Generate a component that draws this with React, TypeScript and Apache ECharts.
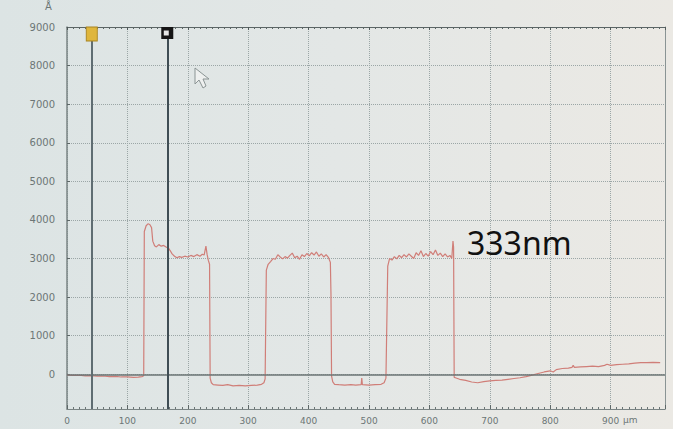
import React, { useEffect, useRef } from "react";
import * as echarts from "echarts";

// Profile trace (x in µm, height in Å)
const leadIn: number[][] = [
  [0, -20], [10, -30], [20, -25], [30, -40], [40, -35], [50, -50], [60, -45], [70, -60],
  [80, -55], [90, -70], [100, -65], [110, -80], [118, -75], [124, -60], [127, -40],
];
const plateau1: number[][] = [
  [128, 3700], [131, 3850], [134, 3900], [137, 3880], [140, 3800], [142, 3450], [145, 3330],
  [148, 3300], [152, 3360], [156, 3320], [160, 3340], [164, 3300], [168, 3270], [171, 3200],
  [174, 3120], [178, 3060], [182, 3020], [186, 3050], [190, 3030], [195, 3060], [200, 3040],
  [205, 3080], [210, 3050], [215, 3100], [220, 3060], [224, 3110], [227, 3090], [230, 3320],
  [232, 3100], [234, 2950], [236, 2850],
];
const trench1: number[][] = [
  [237, -100], [239, -220], [242, -270], [250, -280], [258, -290], [266, -270], [275, -300],
  [285, -290], [295, -300], [305, -290], [315, -280], [322, -260], [326, -220], [328, -120],
];
const plateau2: number[][] = [
  [330, 2700], [333, 2850], [337, 2920], [341, 3000], [345, 2980], [349, 3100], [353, 3040],
  [357, 2990], [361, 3050], [365, 3010], [369, 3080], [373, 3140], [377, 3020], [381, 3060],
  [385, 2980], [389, 3100], [393, 3050], [397, 3130], [401, 3070], [405, 3150], [409, 3090],
  [413, 3170], [417, 3060], [421, 3120], [425, 3040], [429, 3100], [433, 3020], [436, 2900],
  [437, 2100],
];
const trench2: number[][] = [
  [438, -50], [440, -200], [443, -260], [450, -270], [460, -280], [470, -270], [478, -280],
  [487, -270], [488, -100], [489, -270], [500, -280], [510, -270], [520, -260], [525, -220],
  [528, -100],
];
const plateau3: number[][] = [
  [531, 2800], [534, 3000], [538, 2960], [542, 3050], [546, 2990], [550, 3080], [554, 3020],
  [558, 3100], [562, 3040], [566, 3120], [570, 3060], [574, 3000], [578, 3150], [582, 3080],
  [586, 3200], [590, 3050], [594, 3130], [598, 3060], [602, 3180], [606, 3100], [610, 3220],
  [614, 3080], [618, 3140], [622, 3050], [626, 3120], [630, 3040], [634, 3080], [637, 3000],
  [639, 3450], [640, 3300],
];
const tail: number[][] = [
  [641, -80], [643, -90], [650, -130], [660, -160], [670, -200], [680, -220], [690, -190],
  [700, -170], [710, -160], [720, -150], [730, -130], [740, -110], [750, -90], [760, -60],
  [770, -20], [780, 20], [790, 60], [800, 90], [805, 60], [810, 120], [820, 150], [830, 160],
  [836, 180], [838, 230], [840, 180], [850, 190], [860, 200], [870, 210], [880, 200],
  [890, 230], [894, 260], [900, 230], [910, 250], [920, 260], [930, 270], [940, 290],
  [950, 300], [960, 300], [970, 310], [982, 300],
];

const cursorYellow = 41;
const cursorBlack = 166;
const xMin = 0;
const xMax = 990;
const yMin = -900;
const yMax = 9000;
const stepLabel = "333nm";
const yUnit = "Å";
const xUnit = "µm";

export default function App() {
  const ref = useRef<HTMLDivElement>(null);
  useEffect(() => {
    const chart = echarts.init(ref.current!, null, { renderer: "svg" });
    const data = [...leadIn, ...plateau1, ...trench1, ...plateau2, ...trench2, ...plateau3, ...tail];
    const axisGray = "#7a8484";
    const labelGray = "#6c7676";
    chart.setOption({
      animation: false,
      grid: { left: 67, right: 8, top: 27, bottom: 20, containLabel: false },
      graphic: [
        {
          type: "rect",
          z: -100,
          silent: true,
          shape: { x: 0, y: 0, width: 673, height: 429 },
          style: {
            fill: new echarts.graphic.LinearGradient(0, 0, 1, 0, [
              { offset: 0, color: "#dce4e4" },
              { offset: 0.5, color: "#e3e7e6" },
              { offset: 1, color: "#ebe9e4" },
            ]),
          },
        },
        {
          type: "text",
          left: 467,
          top: 226,
          z: 100,
          style: { text: stepLabel, fill: "#111111", font: '32px "Noto Sans"' },
        },
        {
          type: "text",
          left: 45,
          top: 1,
          style: { text: yUnit, fill: labelGray, font: '10px "DejaVu Sans"' },
        },
        {
          type: "text",
          left: 623,
          top: 415,
          style: { text: xUnit, fill: labelGray, font: '9px "DejaVu Sans"' },
        },
        {
          type: "polygon",
          silent: true,
          shape: {
            points: [[195, 68], [195, 84], [199, 80], [203, 88], [206, 86], [203, 79], [209, 79]],
          },
          style: { fill: "#eef0ef", stroke: "#8b9494", lineWidth: 1 },
        },
      ],
      xAxis: [
        {
          type: "value",
          min: xMin,
          max: xMax,
          interval: 100,
          position: "bottom",
          axisLine: { show: true, onZero: false, lineStyle: { color: axisGray, width: 1 } },
          axisTick: { show: true, inside: true, length: 4, lineStyle: { color: "#5d6767" } },
          minorTick: { show: true, splitNumber: 10, length: 2, lineStyle: { color: "#6a7474" } },
          axisLabel: {
            color: labelGray,
            fontSize: 9,
            margin: 7,
            fontFamily: "DejaVu Sans",
            showMaxLabel: false,
            formatter: (v: number) => String(v),
          },
          splitLine: { show: true, lineStyle: { color: "#9ba6a6", type: "dotted", width: 1 } },
        },
        {
          type: "value",
          min: xMin,
          max: xMax,
          interval: 100,
          position: "top",
          axisLine: { show: true, onZero: false, lineStyle: { color: "#5b6565", width: 1 } },
          axisTick: { show: true, inside: true, length: 3, lineStyle: { color: "#4f5959" } },
          minorTick: { show: true, splitNumber: 10, length: 2, lineStyle: { color: "#5b6565" } },
          axisLabel: { show: false },
          splitLine: { show: false },
        },
      ],
      yAxis: [
        {
          type: "value",
          min: yMin,
          max: yMax,
          splitNumber: 10,
          axisLine: { show: true, onZero: false, lineStyle: { color: axisGray, width: 1.5 } },
          axisTick: { show: true, inside: true, length: 3, lineStyle: { color: "#5d6767" } },
          axisLabel: {
            color: labelGray,
            fontSize: 10,
            margin: 12,
            fontFamily: "DejaVu Sans",
            showMinLabel: false,
            formatter: (v: number) => String(v),
          },
          splitLine: { show: true, lineStyle: { color: "#9ba6a6", type: "dotted", width: 1 } },
        },
        {
          type: "value",
          min: yMin,
          max: yMax,
          splitNumber: 10,
          position: "right",
          axisLine: { show: true, onZero: false, lineStyle: { color: "#8a9494", width: 1 } },
          axisTick: { show: false },
          axisLabel: { show: false },
          splitLine: { show: false },
        },
      ],
      series: [
        {
          type: "line",
          data,
          xAxisIndex: 0,
          yAxisIndex: 0,
          symbol: "none",
          showSymbol: false,
          lineStyle: { color: "#d07e78", width: 1.2 },
          markLine: {
            silent: true,
            symbol: "none",
            label: { show: false },
            animation: false,
            data: [
              { yAxis: 0, lineStyle: { color: "#6b7575", width: 1.5, type: "solid" } },
              { xAxis: cursorYellow, lineStyle: { color: "#5f6d72", width: 2, type: "solid" } },
              { xAxis: cursorBlack, lineStyle: { color: "#3f4d54", width: 2, type: "solid" } },
            ],
          },
          markPoint: {
            silent: true,
            label: { show: false },
            animation: false,
            data: [
              {
                coord: [cursorYellow, yMax],
                symbol: "rect",
                symbolSize: [11, 14],
                symbolOffset: [0, 7],
                itemStyle: { color: "#dfb63c", borderColor: "#a88420", borderWidth: 1 },
              },
              {
                coord: [cursorBlack, yMax],
                symbol: "rect",
                symbolSize: [12, 12],
                symbolOffset: [0, 6],
                itemStyle: { color: "#151515" },
              },
              {
                coord: [cursorBlack, yMax],
                symbol: "rect",
                symbolSize: [5, 5],
                symbolOffset: [-1, 6],
                itemStyle: { color: "#e6e6e6" },
              },
            ],
          },
        },
      ],
    });
    return () => chart.dispose();
  }, []);
  return (
    <div
      ref={ref}
      style={{ position: "absolute", left: 0, top: 0, width: 673, height: 429 }}
    />
  );
}
